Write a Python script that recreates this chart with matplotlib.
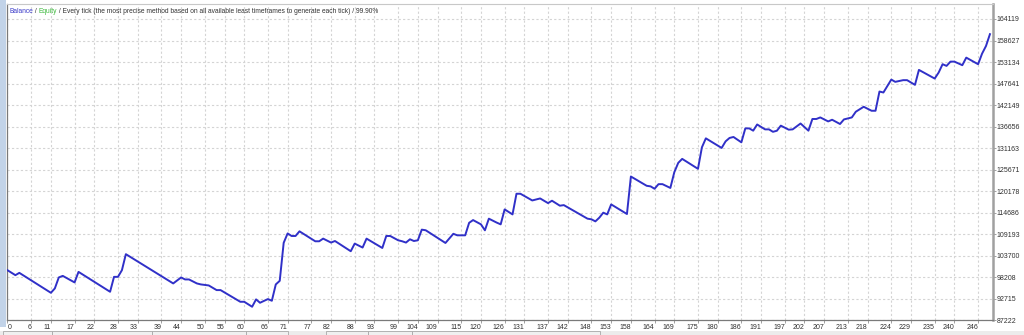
import matplotlib
matplotlib.use("Agg")
import matplotlib.pyplot as plt
from matplotlib.patches import Rectangle

# ---- data (trade number, balance) at the visible vertices of the balance curve ----
trade = [0, 2, 3, 11, 12, 13, 14, 17, 18, 26, 27, 28, 29, 30, 42, 44, 45, 46, 48, 49, 51,
         53, 54, 59, 60, 62, 63, 64, 66, 67, 68, 69, 70, 71, 72, 73, 74, 78, 79, 80, 82,
         83, 87, 88, 90, 91, 95, 96, 97, 99, 100, 101, 102, 103, 104, 105, 106, 111, 113,
         114, 116, 117, 118, 120, 121, 122, 124, 125, 126, 128, 129, 130, 133, 135, 137,
         138, 140, 141, 147, 148, 149, 150, 151, 152, 153, 157, 158, 162, 163, 164, 165,
         166, 168, 169, 170, 171, 175, 176, 177, 181, 182, 183, 184, 186, 187, 188, 189,
         190, 192, 193, 194, 195, 196, 198, 199, 201, 203, 204, 205, 206, 208, 209, 211,
         212, 214, 215, 217, 219, 220, 221, 222, 224, 225, 227, 228, 230, 231, 235, 236,
         237, 238, 239, 240, 242, 243, 246, 247, 248, 249]
balance = [100000, 98740, 99330, 94240, 95360, 98160, 98560, 96890, 99580, 94500, 98310,
           98310, 100010, 104100, 96630, 98160, 97650, 97650, 96630, 96380, 96120,
           94930, 94930, 91950, 91950, 90680, 92560, 91700, 92640, 92210, 96380, 97300,
           107000, 109400, 108740, 108740, 109930, 107390, 107390, 108070, 107060,
           107460, 104850, 106800, 105790, 108070, 105680, 108740, 108740, 107650,
           107400, 107060, 107900, 107460, 107640, 110360, 110200, 106960, 109300,
           108910, 108910, 112100, 112800, 111710, 110190, 113160, 112150, 111710,
           115530, 114250, 119520, 119520, 117810, 118320, 117130, 117740, 116470,
           116620, 113160, 113000, 112470, 113420, 114690, 114250, 116800, 114350,
           123920, 121550, 121400, 120790, 121970, 121970, 121000, 125010, 127400,
           128420, 125880, 131370, 133660, 131210, 132890, 133760, 134010, 132640,
           136200, 136200, 135620, 137200, 135950, 135950, 135330, 135600, 136900,
           135870, 135950, 137450, 135620, 138600, 138600, 139000, 137980, 138410,
           137320, 138490, 139000, 140450, 141720, 140700, 140700, 145610, 145360,
           148660, 148080, 148510, 148510, 147310, 151130, 148920, 150450, 152580,
           152150, 153240, 153240, 152330, 154260, 152580, 155270, 157230, 160250]

x_labels = ["0", "6", "11", "17", "22", "28", "33", "39", "44", "50", "55", "60", "66", "71",
            "77", "82", "88", "93", "99", "104", "109", "115", "120", "126", "131", "137",
            "142", "148", "153", "158", "164", "169", "175", "180", "186", "191", "197",
            "202", "207", "213", "218", "224", "229", "235", "240", "246"]
y_labels = ["87222", "92715", "98208", "103700", "109193", "114686", "120178", "125671",
            "131163", "136656", "142149", "147641", "153134", "158627", "164119"]

header_parts = [("Balance", "#3a3ac8"), (" / ", "#333333"), ("Equity", "#3cb83c"),
                (" / Every tick (the most precise method based on all available least "
                 "timeframes to generate each tick) / 99.90%", "#333333")]

FONT = "Liberation Sans"
FS = 5.0
FS_HEAD = 4.8

# ---- figure ----
W, H = 1024, 335
fig = plt.figure(figsize=(W / 100, H / 100), dpi=100)
fig.patch.set_facecolor("white")

# window chrome: left blue strip and bottom status strip
fig.patches.append(Rectangle((0, 8 / H), 6 / W, 1 - 8 / H, transform=fig.transFigure,
                             facecolor="#c2d3e8", edgecolor="none", zorder=0))
fig.patches.append(Rectangle((0, 0), 1, 4 / H, transform=fig.transFigure,
                             facecolor="#ececec", edgecolor="none", zorder=0))
for x0, x1 in [(3, 52), (52, 152), (152, 246), (246, 288), (326, 368), (368, 412), (412, 600)]:
    fig.patches.append(Rectangle((x0 / W, 0), (x1 - x0) / W, 4 / H, transform=fig.transFigure,
                                 facecolor="#f0f0f0", edgecolor="#a8a8a8", lw=0.6, zorder=0))

left, right, top, bottom = 7.3, 992.7, 4.0, 320.3
ax = fig.add_axes([left / W, (H - bottom) / H, (right - left) / W, (bottom - top) / H])
ax.set_facecolor("white")

yvals = [float(v) for v in y_labels]
ystep = (yvals[-1] - yvals[0]) / (len(yvals) - 1)
ax.set_ylim(yvals[0], yvals[0] + ystep * (bottom - top) / ((bottom - 19.0) / (len(yvals) - 1)))
ax.set_xlim(-0.05, 249.7)

ax.plot(trade, balance, color="#3030c8", lw=1.4, solid_joinstyle="round", zorder=3)

xticks = [float(t) for t in x_labels]
ax.set_xticks(xticks)
ax.set_xticklabels(x_labels, fontfamily=FONT)
ax.set_yticks([yvals[0] + i * ystep for i in range(len(yvals))])
ax.set_yticklabels(y_labels, fontfamily=FONT)

ax.grid(True, color="#d4d4d4", linestyle=(0, (2, 2)), lw=0.8)
ax.set_axisbelow(True)

ax.yaxis.tick_right()
ax.tick_params(axis="y", length=2, width=0.6, color="#909090", pad=1,
               labelsize=FS, labelcolor="#303030")
ax.tick_params(axis="x", length=2, width=0.6, color="#909090", pad=0.5,
               labelsize=FS, labelcolor="#303030")
for lab in ax.get_xticklabels():
    lab.set_horizontalalignment("right")
ax.get_xticklabels()[0].set_horizontalalignment("left")

for s in ["left", "bottom"]:
    ax.spines[s].set_color("#7a7a7a")
    ax.spines[s].set_linewidth(0.9)
ax.spines["right"].set_color("#a0a0a0")
ax.spines["right"].set_linewidth(1.8)
ax.spines["top"].set_color("#c8c8c8")
ax.spines["top"].set_linewidth(0.8)

# header text, chained pieces
prev = fig.text(9.3 / W, (H - 11.7) / H, header_parts[0][0], color=header_parts[0][1],
                fontsize=FS_HEAD, va="center", ha="left", fontfamily=FONT)
for txt, col in header_parts[1:]:
    prev = ax.annotate(txt, xy=(1, 0), xycoords=prev, va="bottom", ha="left",
                       color=col, fontsize=FS_HEAD, fontfamily=FONT)

fig.savefig("out.png", dpi=100, facecolor="white")
